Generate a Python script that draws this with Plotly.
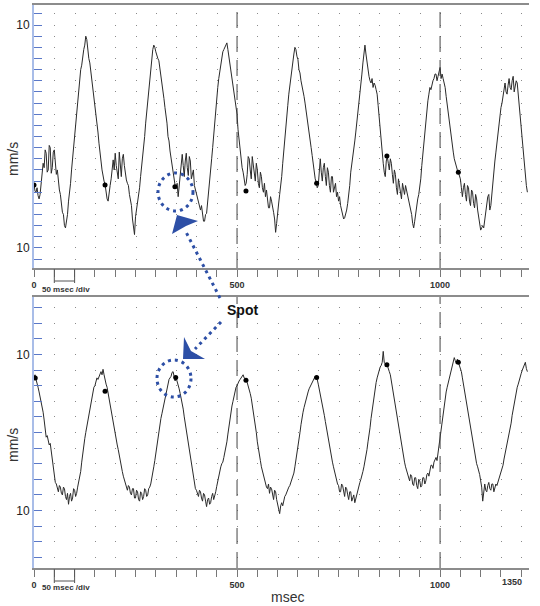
import plotly.graph_objects as go

# ---------------- data ----------------
SAMPLE_MS = 2.5  # sampling interval of the traces, msec

top_v = [
    -4.3, -4.9, -5.0, -4.6, -5.3, -5.6, -5.2, -4.2, -3.5, -2.4, -2.8, -1.2, -1.5, -3.2, -3.0, -0.8, -1.0, -3.3, -2.8, -1.4,
    -1.2, -2.6, -3.4, -3.0, -4.0, -4.8, -5.2, -6.2, -6.8, -7.0, -8.0, -8.2, -7.6, -7.0, -5.8, -5.2, -4.2, -3.0, -2.0, -1.2,
    0.0, 1.2, 2.1, 2.8, 4.2, 5.4, 6.0, 6.4, 7.2, 7.8, 8.2, 9.0, 8.7, 7.6, 7.0, 6.6, 5.8, 5.0, 4.6, 3.6,
    3.0, 2.4, 1.5, 0.4, -0.6, -1.2, -2.2, -3.0, -3.6, -4.0, -4.3, -5.0, -5.6, -5.8, -4.9, -4.4, -3.8, -2.8, -2.1, -3.0,
    -1.5, -2.6, -3.2, -3.8, -1.4, -2.8, -3.6, -2.0, -1.6, -2.6, -3.4, -3.9, -4.2, -4.4, -5.2, -5.6, -6.2, -7.4, -8.5, -8.8,
    -7.2, -6.6, -5.8, -5.4, -4.6, -3.6, -2.8, -2.0, -1.0, 0.0, 1.2, 2.2, 3.0, 4.0, 5.2, 6.0, 7.0, 7.8, 8.2, 8.0,
    7.6, 7.2, 7.0, 6.8, 6.2, 5.4, 5.0, 4.4, 3.4, 2.6, 2.0, 1.2, 0.0, -0.4, -1.3, -2.0, -2.6, -3.4, -4.0, -4.4,
    -4.6, -4.2, -5.4, -4.4, -3.2, -2.2, -1.6, -2.6, -3.6, -2.2, -1.5, -2.8, -3.5, -1.8, -2.2, -3.8, -3.4, -3.0, -4.4, -4.8,
    -5.2, -5.4, -6.0, -6.4, -6.6, -6.2, -7.2, -7.6, -7.6, -7.0, -6.9, -6.0, -5.0, -4.4, -3.4, -2.0, -1.0, 0.2, 1.4, 2.2,
    3.3, 4.4, 5.2, 5.8, 6.5, 7.2, 7.6, 7.8, 8.0, 8.2, 8.4, 7.8, 7.2, 6.4, 5.9, 5.4, 4.6, 3.8, 3.2, 2.8,
    2.0, 0.6, -0.4, -1.2, -2.0, -2.8, -3.2, -3.8, -4.4, -4.2, -3.4, -1.8, -2.0, -3.0, -3.8, -1.8, -2.4, -3.4, -4.0, -2.4,
    -3.0, -4.2, -4.6, -3.2, -3.6, -4.6, -5.0, -4.2, -5.4, -4.8, -5.8, -6.4, -6.4, -5.4, -5.8, -6.6, -6.8, -7.4, -8.6, -7.8,
    -6.6, -6.0, -5.2, -4.6, -3.6, -2.4, -1.2, 0.0, 1.0, 2.0, 2.8, 3.8, 4.6, 5.4, 6.2, 7.0, 7.4, 8.0, 7.8, 7.2,
    6.9, 6.0, 5.7, 5.0, 4.6, 4.2, 3.6, 3.0, 2.4, 1.8, 1.0, 0.2, -0.4, -1.0, -1.7, -2.6, -3.4, -3.8, -4.1, -4.6,
    -4.4, -3.0, -2.0, -3.2, -4.0, -2.8, -2.4, -3.6, -4.4, -2.8, -3.2, -4.4, -5.0, -3.6, -3.6, -5.0, -4.6, -4.2, -5.4, -5.0,
    -5.8, -5.4, -6.2, -6.6, -6.8, -7.4, -7.3, -7.0, -6.6, -6.0, -5.4, -4.4, -3.2, -2.6, -1.8, -1.2, -0.4, 0.4, 1.2, 2.0,
    2.8, 3.8, 4.8, 5.6, 6.6, 7.4, 8.2, 7.4, 6.6, 5.8, 5.4, 5.0, 4.8, 5.2, 4.4, 4.8, 4.6, 4.2, 3.8, 2.8,
    1.6, 0.4, -0.6, -1.4, -2.4, -3.2, -3.6, -2.2, -1.8, -2.4, -3.0, -2.0, -2.4, -3.4, -4.2, -3.0, -3.4, -4.6, -5.2, -3.8,
    -4.4, -5.4, -5.6, -4.2, -4.8, -5.2, -4.4, -4.8, -5.2, -5.8, -6.2, -6.6, -7.0, -7.8, -8.2, -7.6, -6.8, -6.2, -5.6, -5.2,
    -4.6, -3.8, -2.6, -1.6, -0.6, 0.4, 1.6, 2.4, 3.2, 3.8, 4.4, 4.2, 4.8, 5.0, 5.2, 5.6, 5.6, 5.0, 5.4, 6.0,
    6.2, 5.2, 5.6, 5.2, 4.8, 4.4, 3.6, 2.8, 2.0, 1.2, 0.6, 0.0, -0.8, -1.4, -2.0, -2.4, -2.8, -3.0, -3.2, -3.6,
    -3.8, -4.6, -5.4, -4.6, -4.2, -5.2, -5.8, -4.4, -4.6, -5.8, -6.2, -4.8, -5.0, -6.0, -6.4, -5.2, -5.6, -6.6, -7.2, -7.8,
    -8.4, -8.2, -8.0, -8.2, -7.4, -7.0, -6.4, -5.4, -5.2, -6.6, -6.2, -5.0, -4.2, -3.4, -2.2, -1.4, -0.6, 0.4, 1.2, 2.0,
    2.6, 3.0, 3.6, 4.4, 4.8, 4.0, 3.8, 4.6, 5.2, 4.4, 4.2, 5.0, 5.4, 4.0, 4.4, 5.0, 4.8, 3.8, 2.6, 1.6,
    0.4, -0.6, -1.8, -2.8, -3.8, -4.4, -5.0,
]

bot_v = [
    7.0, 7.4, 6.8, 6.4, 5.8, 5.2, 4.6, 4.0, 3.2, 2.6, 1.6, 0.6, -0.6, -0.4, -1.0, -1.6, -1.4, -2.4, -3.8, -4.8,
    -5.6, -6.4, -6.6, -7.2, -7.6, -6.8, -7.0, -7.8, -8.0, -7.0, -7.2, -8.2, -8.6, -7.8, -9.2, -8.2, -7.8, -8.8, -8.4, -7.2,
    -7.4, -8.2, -7.8, -7.0, -6.4, -5.8, -5.0, -3.8, -2.6, -1.8, -0.8, 0.0, 0.8, 1.6, 2.4, 3.2, 3.8, 4.4, 5.2, 5.8,
    6.0, 6.6, 7.0, 6.8, 7.2, 7.6, 7.8, 7.4, 8.1, 7.4, 6.6, 6.2, 5.8, 5.0, 4.4, 3.6, 2.8, 2.0, 1.2, 0.6,
    -0.2, -1.0, -1.6, -2.2, -3.0, -3.8, -4.4, -5.0, -5.6, -6.0, -6.4, -7.0, -7.4, -6.8, -7.0, -7.8, -8.0, -7.2, -7.2, -8.4,
    -8.4, -7.4, -7.6, -8.6, -8.8, -7.6, -7.8, -8.6, -8.2, -7.2, -7.4, -8.2, -8.0, -7.2, -7.0, -6.6, -6.0, -5.2, -4.4, -3.6,
    -2.6, -1.8, -0.8, 0.0, 1.0, 1.8, 2.4, 3.0, 3.8, 4.6, 5.2, 5.6, 6.2, 6.8, 7.0, 7.2, 7.7, 7.8, 7.2, 6.6,
    7.0, 6.6, 6.0, 5.6, 5.0, 4.4, 3.8, 3.0, 2.0, 1.2, 0.4, -0.6, -1.8, -2.6, -3.4, -4.2, -5.0, -5.8, -6.5, -7.2,
    -7.4, -8.0, -8.2, -7.4, -7.6, -8.4, -8.8, -7.8, -8.0, -8.8, -9.5, -8.6, -8.4, -9.2, -9.0, -8.2, -7.8, -8.6, -8.2, -7.6,
    -6.9, -6.2, -5.4, -4.8, -4.4, -4.0, -3.8, -3.2, -2.6, -2.0, -1.2, -0.2, 0.8, 1.8, 2.6, 3.4, 4.0, 4.8, 5.4, 5.8,
    6.0, 6.4, 6.6, 6.8, 7.0, 7.2, 7.4, 7.0, 6.9, 6.8, 6.4, 6.0, 5.6, 5.0, 4.4, 3.6, 2.8, 2.0, 1.0, 0.0,
    -1.2, -2.2, -3.0, -3.6, -4.4, -5.0, -5.6, -6.2, -6.6, -7.0, -7.2, -6.6, -7.8, -7.0, -7.2, -8.0, -8.6, -7.4, -7.6, -8.6,
    -9.2, -9.8, -10.4, -9.4, -9.0, -9.4, -8.6, -8.2, -8.0, -7.6, -7.4, -7.0, -6.8, -6.4, -6.0, -5.8, -5.2, -4.4, -3.6, -2.6,
    -1.6, -0.8, 0.0, 1.0, 2.0, 2.6, 3.2, 3.8, 4.4, 4.8, 5.2, 5.6, 5.9, 6.2, 6.4, 6.8, 6.9, 7.2, 7.0, 6.8,
    6.2, 5.6, 5.0, 4.4, 3.8, 3.0, 2.2, 1.4, 0.6, 0.0, -0.8, -1.6, -2.2, -3.0, -3.8, -4.4, -5.0, -5.6, -6.0, -6.6,
    -6.8, -7.6, -7.6, -6.6, -6.8, -7.8, -8.2, -7.0, -7.2, -8.0, -8.6, -7.6, -7.6, -8.8, -8.4, -8.0, -9.0, -8.4, -8.0, -7.6,
    -7.0, -6.4, -6.0, -5.6, -5.0, -4.4, -3.8, -3.0, -2.2, -1.2, -0.4, 0.6, 1.8, 2.8, 3.6, 4.6, 5.6, 6.4, 7.0, 7.6,
    8.0, 8.4, 8.6, 9.0, 10.4, 9.0, 8.8, 8.4, 8.6, 8.0, 7.8, 7.4, 6.6, 5.6, 4.6, 3.8, 3.0, 2.2, 1.4, 0.6,
    -0.2, -1.0, -1.8, -2.4, -3.1, -3.8, -4.4, -4.8, -5.2, -5.8, -6.2, -5.4, -5.6, -6.6, -6.8, -5.8, -5.8, -6.8, -7.2, -6.0,
    -6.2, -7.0, -6.8, -5.8, -5.8, -6.6, -6.2, -5.4, -5.2, -5.6, -4.8, -4.2, -4.2, -4.6, -3.8, -3.4, -3.2, -3.6, -2.6, -1.6,
    -0.4, 0.6, 1.8, 2.8, 3.6, 4.4, 5.2, 5.8, 6.4, 7.0, 7.6, 8.0, 8.4, 9.0, 9.6, 9.2, 8.8, 9.4, 9.0, 8.6,
    8.2, 7.8, 7.0, 6.2, 5.4, 4.4, 3.6, 3.0, 2.4, 1.6, 0.8, -0.2, -1.2, -2.0, -2.8, -3.4, -4.0, -4.4, -4.8, -5.4,
    -6.2, -7.0, -8.8, -7.2, -6.6, -7.4, -7.6, -6.8, -6.4, -7.2, -7.4, -6.6, -6.6, -7.6, -7.2, -6.6, -6.8, -6.4, -6.0, -5.6,
    -5.2, -4.8, -4.2, -3.4, -2.8, -2.2, -1.6, -0.8, -0.2, 0.4, 1.2, 2.2, 3.0, 3.6, 4.4, 5.2, 5.8, 6.2, 6.8, 7.2,
    7.6, 8.0, 8.4, 8.6, 9.0, 8.2, 7.8,
]

top_t = [i * SAMPLE_MS for i in range(len(top_v))]
bot_t = [i * SAMPLE_MS for i in range(len(bot_v))]

# marked "spots"
top_dot_t = [0, 175, 347, 522, 696, 869, 1045]
top_dot_v = [-4.35, -4.35, -4.5, -4.9, -4.2, -1.75, -3.2]
bot_dot_t = [3, 175, 349, 522, 696, 869, 1045]
bot_dot_v = [7.0, 5.3, 7.05, 6.7, 7.05, 8.7, 9.0]

# ticks / labels
x_tick_vals = list(range(0, 1201, 50))
x_tick_labels = {0: "0", 500: "500", 1000: "1000"}
top_y_tick_vals = list(range(-11, 12))
bot_y_tick_vals = list(range(-16, 17, 2))
left_y_labels = {10: "10", -10: "10"}
top_right_labels = {10: "10", 5: "5", 0: "0", -5: "5", -10: "10"}
bot_right_labels = {10: "10", 0: "0", -10: "10"}
marker_lines_ms = [500, 1000]

# ---------------- layout helpers ----------------
W, H = 540, 606


def fx(px):
    return px / W


def fy(py):
    return 1 - py / H


X_DOM = [fx(34), fx(529)]
TOP_DOM = [fy(268), fy(5)]
BOT_DOM = [fy(568), fy(297)]
X_RANGE = [0, 1219]
TOP_RANGE = [-11.8, 11.8]
BOT_RANGE = [-17.37, 17.37]

FONT = "Liberation Sans, Arial, sans-serif"
BLUE = "#2d4fa6"
FRAME = "#8c8c8c"


def xaxis(anchor):
    return dict(
        domain=X_DOM, range=X_RANGE, anchor=anchor,
        tickmode="array", tickvals=x_tick_vals,
        ticktext=[x_tick_labels.get(v, "") for v in x_tick_vals],
        ticks="outside", ticklen=7, tickcolor="#777", tickwidth=1,
        showline=True, linecolor=FRAME, linewidth=1.5, mirror=True,
        showgrid=False, zeroline=False, automargin=False,
        tickfont=dict(family=FONT, size=9, color="#333", weight="bold"),
    )


def yleft(dom, rng, vals, anchor):
    return dict(
        domain=dom, range=rng, anchor=anchor,
        tickmode="array", tickvals=vals,
        ticktext=[left_y_labels.get(v, "") for v in vals],
        ticks="inside", ticklen=8, tickcolor="#5a78c8", tickwidth=1,
        showline=True, linecolor="#a9bde8", linewidth=2,
        showgrid=True, gridcolor="#8a8a8a", gridwidth=1.2, griddash="1px,19.3px",
        zeroline=False, automargin=False,
        tickfont=dict(family=FONT, size=12, color="#222"),
    )


def yright(over, rng, vals, labels, anchor):
    return dict(
        overlaying=over, side="right", range=rng, anchor=anchor,
        tickmode="array", tickvals=vals,
        ticktext=[labels.get(v, "") for v in vals],
        ticks="outside", ticklen=5, tickcolor="#666", tickwidth=1,
        showline=True, linecolor=FRAME, linewidth=1.5,
        showgrid=False, zeroline=False, automargin=False,
        tickfont=dict(family=FONT, size=6, color="#555"),
    )


fig = go.Figure()
fig.add_trace(go.Scatter(x=top_t, y=top_v, mode="lines", xaxis="x", yaxis="y",
                         line=dict(color="#2a2a2a", width=1), hoverinfo="skip"))
fig.add_trace(go.Scatter(x=top_dot_t, y=top_dot_v, mode="markers", xaxis="x", yaxis="y",
                         marker=dict(color="#000", size=5), hoverinfo="skip"))
fig.add_trace(go.Scatter(x=bot_t, y=bot_v, mode="lines", xaxis="x2", yaxis="y2",
                         line=dict(color="#2a2a2a", width=1), hoverinfo="skip"))
fig.add_trace(go.Scatter(x=bot_dot_t, y=bot_dot_v, mode="markers", xaxis="x2", yaxis="y2",
                         marker=dict(color="#000", size=5), hoverinfo="skip"))

shapes = []
for xr, yr in (("x", "y domain"), ("x2", "y2 domain")):
    for ms in marker_lines_ms:
        shapes.append(dict(type="line", xref=xr, yref=yr, x0=ms, x1=ms, y0=0, y1=1,
                           line=dict(color="#444", width=1, dash="16px,8px")))

# "50 msec /div" scale brackets
for xr, base in (("x", 268), ("x2", 568)):
    for ms in (50, 100):
        shapes.append(dict(type="line", xref=xr, yref="paper", x0=ms, x1=ms,
                           y0=fy(base + 1), y1=fy(base + 15), line=dict(color="#555", width=1)))
    shapes.append(dict(type="line", xref=xr, yref="paper", x0=50, x1=100,
                       y0=fy(base + 13), y1=fy(base + 13), line=dict(color="#555", width=1)))

# blue "Spot" callouts
DOT = "3px,4px"
shapes += [
    dict(type="line", xref="paper", yref="paper", x0=fx(220), y0=fy(298), x1=fx(186), y1=fy(232),
         line=dict(color=BLUE, width=3, dash=DOT)),
    dict(type="path", xref="paper", yref="paper",
         path=f"M {fx(177)} {fy(215)} L {fx(198)} {fy(221)} L {fx(186)} {fy(226)} L {fx(172)} {fy(234)} Z",
         fillcolor=BLUE, line=dict(width=0)),
    dict(type="circle", xref="paper", yref="paper", x0=fx(158), x1=fx(193), y0=fy(211), y1=fy(173),
         line=dict(color=BLUE, width=3, dash=DOT)),
    dict(type="line", xref="paper", yref="paper", x0=fx(221), y0=fy(322), x1=fx(195), y1=fy(349),
         line=dict(color=BLUE, width=3, dash=DOT)),
    dict(type="path", xref="paper", yref="paper",
         path=f"M {fx(183)} {fy(359)} L {fx(184)} {fy(337)} L {fx(191)} {fy(351)} L {fx(205)} {fy(359)} Z",
         fillcolor=BLUE, line=dict(width=0)),
    dict(type="circle", xref="paper", yref="paper", x0=fx(157), x1=fx(191), y0=fy(397), y1=fy(360),
         line=dict(color=BLUE, width=3, dash=DOT)),
]


def note(text, px, py, size, color="#333", angle=0):
    return dict(text=text, x=fx(px), y=fy(py), xref="paper", yref="paper", showarrow=False,
                xanchor="center", yanchor="middle", textangle=angle,
                font=dict(family=FONT, size=size, color=color))


annotations = [
    note("<b>Spot</b>", 242, 310, 14, "#111"),
    note("mm/s", 13, 159, 14, angle=-90),
    note("mm/s", 13, 445, 14, angle=-90),
    note("msec", 287, 597, 14),
    note("<b>1350</b>", 512, 582, 9),
    note("<b>50 msec /div</b>", 66, 289, 8),
    note("<b>50 msec /div</b>", 66, 587, 8),
]

fig.update_layout(
    width=W, height=H, autosize=False,
    margin=dict(l=0, r=0, t=0, b=0, pad=0),
    paper_bgcolor="white", plot_bgcolor="white",
    showlegend=False, hovermode=False,
    font=dict(family=FONT),
    xaxis=xaxis("y"),
    yaxis=yleft(TOP_DOM, TOP_RANGE, top_y_tick_vals, "x"),
    yaxis3=yright("y", TOP_RANGE, top_y_tick_vals, top_right_labels, "x"),
    xaxis2=xaxis("y2"),
    yaxis2=yleft(BOT_DOM, BOT_RANGE, bot_y_tick_vals, "x2"),
    yaxis4=yright("y2", BOT_RANGE, bot_y_tick_vals, bot_right_labels, "x2"),
    shapes=shapes,
    annotations=annotations,
)

fig.write_html("out.html", config={"displayModeBar": False},
               post_script="document.body.style.margin='0';")
